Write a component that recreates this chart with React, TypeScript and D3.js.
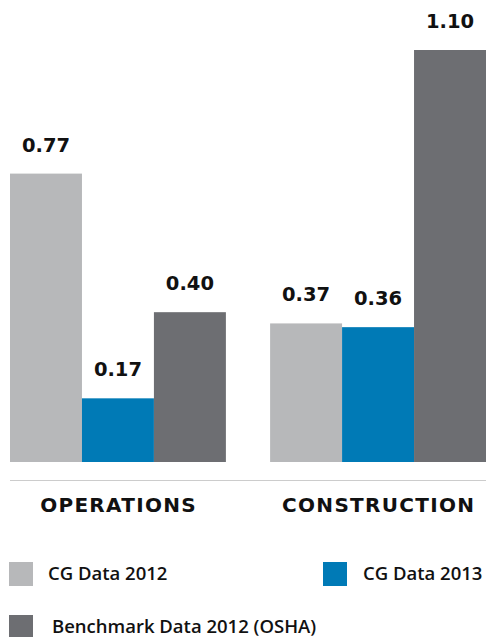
import React from "react";
import * as d3 from "d3";

const categories = ["OPERATIONS", "CONSTRUCTION"];
const seriesNames = ["CG Data 2012", "CG Data 2013", "Benchmark Data 2012 (OSHA)"];
const cg2012 = [0.77, 0.37];
const cg2013 = [0.17, 0.36];
const benchmark2012 = [0.4, 1.1];
const seriesColors = ["#b7b8ba", "#007ab6", "#6d6e72"];

const W = 486;
const H = 637;

export default function App() {
  const values = [cg2012, cg2013, benchmark2012];
  const x0 = d3.scaleBand<string>().domain(categories).range([10, 486]).paddingInner(0.17).paddingOuter(0);
  const x1 = d3.scaleBand<string>().domain(seriesNames).range([0, x0.bandwidth()]).padding(0);
  const y = d3.scaleLinear().domain([0, 1.1]).range([462, 50]);
  const fmt = d3.format(".2f");
  const catSpacing = 1.3;

  const legendItems = [
    { name: seriesNames[0], color: seriesColors[0], sx: 9, sy: 562, tx: 48, ty: 580 },
    { name: seriesNames[1], color: seriesColors[1], sx: 323, sy: 562, tx: 363, ty: 580 },
    { name: seriesNames[2], color: seriesColors[2], sx: 9, sy: 615, tx: 52, ty: 633 },
  ];

  return (
    <div style={{ position: "absolute", left: 0, top: 0 }}>
      <svg width={W} height={H} style={{ display: "block", background: "#fff" }}>
        {categories.map((cat, ci) => (
          <g key={cat} transform={`translate(${x0(cat)},0)`}>
            {seriesNames.map((s, si) => {
              const v = values[si][ci];
              const bx = x1(s)!;
              const bw = x1.bandwidth();
              return (
                <g key={s}>
                  <rect x={bx} y={y(v)} width={bw} height={y(0) - y(v)} fill={seriesColors[si]} />
                  <text
                    x={bx + bw / 2}
                    y={y(v) - 22}
                    textAnchor="middle"
                    fontFamily="DejaVu Sans"
                    fontWeight="bold"
                    fontSize={19.5}
                    fill="#111"
                  >
                    {fmt(v)}
                  </text>
                </g>
              );
            })}
            <text
              x={x0.bandwidth() / 2 + catSpacing / 2}
              y={512}
              textAnchor="middle"
              fontFamily="DejaVu Sans"
              fontWeight="bold"
              fontSize={20}
              letterSpacing={catSpacing}
              fill="#111"
            >
              {cat}
            </text>
          </g>
        ))}
        <line x1={10} x2={486} y1={480.5} y2={480.5} stroke="#cccccc" strokeWidth={1} />
        {legendItems.map((l) => (
          <g key={l.name}>
            <rect x={l.sx} y={l.sy} width={24} height={24} fill={l.color} />
            <text x={l.tx} y={l.ty} fontFamily="Open Sans" fontWeight={600} fontSize={18.5} fill="#111">
              {l.name}
            </text>
          </g>
        ))}
      </svg>
    </div>
  );
}
